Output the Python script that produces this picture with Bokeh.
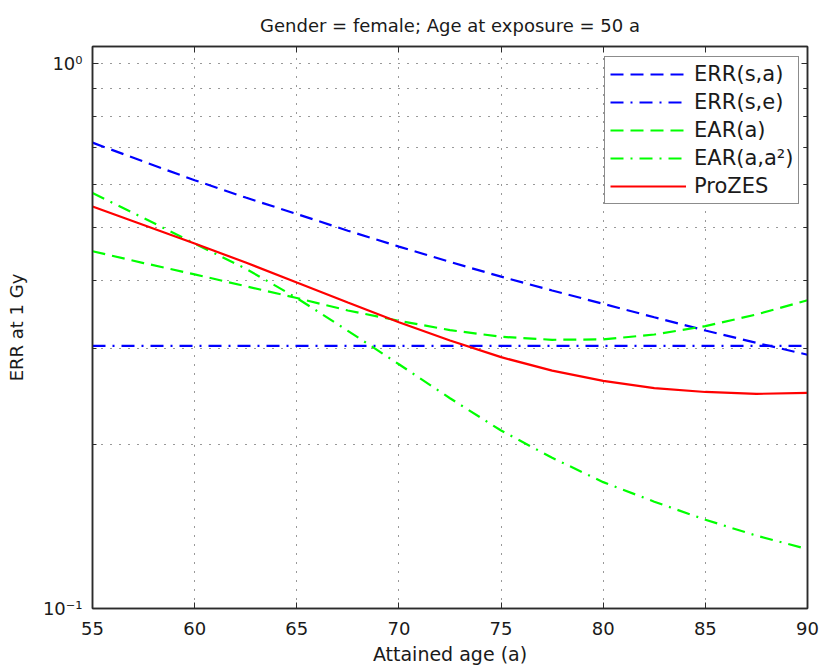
from bokeh.plotting import figure
from bokeh.models import (LinearAxis, LogAxis, FixedTicker, Legend,
                          LegendItem, Range1d)
from bokeh.embed import file_html
from bokeh.resources import INLINE

# Attained age (years)
ages = [55, 57.5, 60, 62.5, 65, 67.5, 70, 72.5, 75, 77.5, 80, 82.5, 85, 87.5, 90]

# Excess relative risk at 1 Gy for each model
err_s_a = [0.715, 0.660, 0.610, 0.567, 0.529, 0.493, 0.461, 0.432, 0.406,
           0.383, 0.362, 0.342, 0.3235, 0.307, 0.292]
err_s_e = [0.303, 0.303, 0.303, 0.303, 0.303, 0.303, 0.303, 0.303, 0.303,
           0.303, 0.303, 0.303, 0.303, 0.303, 0.303]
ear_a = [0.452, 0.430, 0.410, 0.390, 0.371, 0.352, 0.337, 0.324, 0.315,
         0.311, 0.3115, 0.318, 0.3295, 0.346, 0.3675]
ear_a_a2 = [0.578, 0.520, 0.467, 0.420, 0.371, 0.323, 0.2805, 0.243, 0.212,
            0.189, 0.1705, 0.157, 0.1455, 0.136, 0.1285]
prozes = [0.546, 0.505, 0.467, 0.431, 0.396, 0.364, 0.335, 0.310, 0.289,
          0.273, 0.2615, 0.2535, 0.2495, 0.2475, 0.2485]

x_ticks = [55, 60, 65, 70, 75, 80, 85, 90]
y_major = [0.1, 1.0]
y_minor = [0.2, 0.3, 0.4, 0.5, 0.6, 0.7, 0.8, 0.9]
y_labels = {0.1: "10⁻¹", 1.0: "10⁰"}

FONT = "DejaVu Sans"
AX = "#2b2b2b"
TXT = "#1a1a1a"
LW = 2.2

p = figure(width=821, height=669, x_range=Range1d(55, 90),
           y_range=Range1d(0.1, 1.073), y_axis_type="log",
           title="Gender = female; Age at exposure = 50 a",
           output_backend="svg", toolbar_location=None,
           min_border_left=92, min_border_right=14,
           min_border_top=46, min_border_bottom=61)
p.background_fill_color = "white"
p.border_fill_color = "white"
p.outline_line_color = AX
p.outline_line_width = 1.5

p.title.align = "center"
p.title.text_font = FONT
p.title.text_font_size = "18px"
p.title.text_font_style = "normal"
p.title.text_color = TXT
p.title.standoff = 22

# bottom axis with labels
xa = p.xaxis[0]
xa.ticker = FixedTicker(ticks=x_ticks)
xa.major_tick_in = 6
xa.major_tick_out = 0
xa.minor_tick_line_color = None
xa.axis_line_color = AX
xa.axis_line_width = 1.5
xa.major_tick_line_color = AX
xa.major_label_text_font = FONT
xa.major_label_text_font_size = "18px"
xa.major_label_text_color = TXT
xa.major_label_standoff = 13
xa.axis_label = "Attained age (a)"
xa.axis_label_text_font = FONT
xa.axis_label_text_font_size = "19px"
xa.axis_label_text_font_style = "normal"
xa.axis_label_text_color = TXT
xa.axis_label_standoff = 5

# left log axis with decade labels
ya = p.yaxis[0]
ya.ticker = FixedTicker(ticks=y_major, minor_ticks=y_minor)
ya.major_label_overrides = y_labels
ya.major_tick_in = 6
ya.major_tick_out = 0
ya.minor_tick_in = 4
ya.minor_tick_out = 0
ya.axis_line_color = AX
ya.axis_line_width = 1.5
ya.major_tick_line_color = AX
ya.minor_tick_line_color = AX
ya.major_label_text_font = FONT
ya.major_label_text_font_size = "18px"
ya.major_label_text_color = TXT
ya.major_label_standoff = 10
ya.axis_label = "ERR at 1 Gy"
ya.axis_label_text_font = FONT
ya.axis_label_text_font_size = "18px"
ya.axis_label_text_font_style = "normal"
ya.axis_label_text_color = TXT
ya.axis_label_standoff = 13

# boxed frame: ticks on top and right as well
top = LinearAxis(ticker=FixedTicker(ticks=x_ticks), major_tick_in=6,
                 major_tick_out=0, minor_tick_line_color=None,
                 axis_line_color=AX, axis_line_width=1.5,
                 major_tick_line_color=AX, major_label_text_color=None,
                 major_label_standoff=0)
p.add_layout(top, "above")
right = LogAxis(ticker=FixedTicker(ticks=y_major, minor_ticks=y_minor),
                major_tick_in=6, major_tick_out=0, minor_tick_in=4,
                minor_tick_out=0, axis_line_color=AX, axis_line_width=1.5,
                major_tick_line_color=AX, minor_tick_line_color=AX,
                major_label_text_color=None, major_label_standoff=0)
p.add_layout(right, "right")

# dotted grid
p.xgrid.ticker = FixedTicker(ticks=x_ticks[1:-1])
p.ygrid.ticker = FixedTicker(ticks=y_minor + [1.0])
for g in (p.xgrid[0], p.ygrid[0]):
    g.grid_line_color = "#333333"
    g.grid_line_width = 1
    g.grid_line_dash = "1 8"

# model curves
r1 = p.line(ages, err_s_a, line_color="#0000ff", line_width=LW, line_dash="13 7")
r2 = p.line(ages, err_s_e, line_color="#0000ff", line_width=LW, line_dash="13 7 2 7")
r3 = p.line(ages, ear_a, line_color="#00ff00", line_width=LW, line_dash="13 7")
r4 = p.line(ages, ear_a_a2, line_color="#00ff00", line_width=LW, line_dash="13 7 2 7")
r5 = p.line(ages, prozes, line_color="#ff0000", line_width=LW)

legend = Legend(items=[
    LegendItem(label="ERR(s,a)", renderers=[r1]),
    LegendItem(label="ERR(s,e)", renderers=[r2]),
    LegendItem(label="EAR(a)", renderers=[r3]),
    LegendItem(label="EAR(a,a²)", renderers=[r4]),
    LegendItem(label="ProZES", renderers=[r5]),
], location=(512, 404))
legend.margin = 0
legend.padding = 5
legend.spacing = 4
legend.glyph_width = 76
legend.glyph_height = 22
legend.label_height = 22
legend.label_standoff = 8
legend.label_text_font = FONT
legend.label_text_font_size = "21px"
legend.label_text_color = TXT
legend.border_line_color = TXT
legend.border_line_width = 1
legend.background_fill_color = "white"
legend.background_fill_alpha = 1
p.add_layout(legend, "center")

open("out.html", "w").write(file_html(p, INLINE))
